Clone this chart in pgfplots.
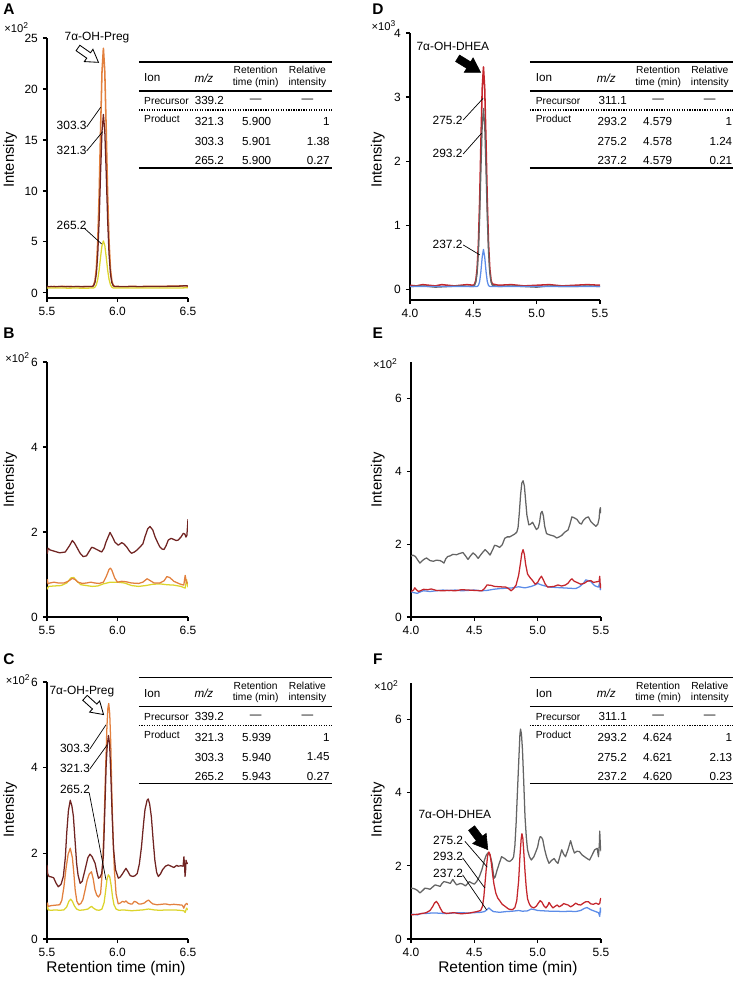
\documentclass[border=0pt]{standalone}
\usepackage{fontspec}
\setmainfont{Liberation Sans}
\usepackage{pgfplots}
\pgfplotsset{compat=1.18}

\definecolor{cBrown}{RGB}{112,36,34}
\definecolor{cOrange}{RGB}{226,128,62}
\definecolor{cYellow}{RGB}{220,212,45}
\definecolor{cGrey}{RGB}{100,100,100}
\definecolor{cRed}{RGB}{196,38,44}
\definecolor{cBlue}{RGB}{92,140,232}

\newcommand\fTick{\fontsize{8.5}{10}\selectfont}
\newcommand\fLab{\fontsize{10.5}{12}\selectfont}
\newcommand\fXLab{\fontsize{11}{13}\selectfont}
\newcommand\fTab{\fontsize{8.3}{10}\selectfont}
\newcommand\fTabS{\fontsize{7.3}{8.2}\selectfont}
\newcommand\fAnn{\fontsize{8.5}{10}\selectfont}

\pgfplotsset{chrom/.style={scale only axis, anchor=south west,
  axis lines=left, axis line style={-,line width=0.8pt},
  tick align=outside, major tick length=3pt, tick style={black,line width=0.8pt},
  ticklabel style={font=\fTick}, enlargelimits=false,
  every axis plot/.append style={line width=0.9pt, line join=round, mark=none}}}

% ion table, drawn in px units from its top left corner
\newcommand\iontable[3]{%
  \draw[line width=1.1pt] (0,0) -- (#1,0);
  \node[anchor=west,inner sep=0,font=\fTab] at (\cIon,16) {Ion};
  \node[anchor=west,inner sep=0,font=\fTab\itshape] at (\cMz,16) {m/z};
  \node[align=center,inner sep=0,font=\fTabS] at (\cRt,15) {Retention\\time (min)};
  \node[align=center,inner sep=0,font=\fTabS] at (\cRi,15) {Relative\\intensity};
  \draw[line width=0.9pt] (0,29) -- (#1,29);
  \node[anchor=west,inner sep=0,font=\fTabS] at (\cIon,39) {Precursor};
  \node[anchor=east,inner sep=0,font=\fTab] at (\cMzR,39) {#2};
  \node[inner sep=0,font=\fTab] at (\cRt,39) {—};
  \node[inner sep=0,font=\fTab] at (\cRi,39) {—};
  \draw[line width=0.9pt, dash pattern=on 0.9pt off 0.9pt] (0,48) -- (#1,48);
  \node[anchor=west,inner sep=0,font=\fTabS] at (\cIon,57) {Product};
  \foreach \va/\vb/\vc [count=\k from 0] in {#3} {
    \node[anchor=east,inner sep=0,font=\fTab] at (\cMzR,60+19.5*\k) {\va};
    \node[inner sep=0,font=\fTab] at (\cRtV,60+19.5*\k) {\vb};
    \node[anchor=east,inner sep=0,font=\fTab] at (\cRiR,60+19.5*\k) {\vc};
  }
  \draw[line width=1.1pt] (0,106) -- (#1,106);
}
\newcommand\pregcols{\def\cIon{5}\def\cMz{55.3}\def\cMzR{85.3}\def\cRt{116.7}\def\cRtV{117.7}\def\cRi{168.5}\def\cRiR{191}}
\newcommand\dheacols{\def\cIon{5.7}\def\cMz{66.7}\def\cMzR{97.3}\def\cRt{128.3}\def\cRtV{127.8}\def\cRi{180}\def\cRiR{202.7}}

% block arrow: tail x, tail y, angle, style, shaft half width, head half width, head start, length
\newcommand\blockarrow[8]{%
  \begin{scope}[shift={(#1,#2)}, rotate=#3]
    \draw[#4] (0,-#5) -- (#7,-#5) -- (#7,-#6) -- (#8,0) -- (#7,#6) -- (#7,#5) -- (0,#5) -- cycle;
  \end{scope}}

\begin{document}
\begin{tikzpicture}
\path[use as bounding box] (0,0) rectangle (18.4cm,-24.55cm);

% ---------- A ----------
\begin{axis}[chrom, at={(1.175cm,-7.45cm)}, width=3.525cm, height=6.5cm,
  xmin=5.5, xmax=6.5, ymin=-0.5, ymax=25,
  xtick={5.5,6,6.5}, xticklabels={5.5,6.0,6.5},
  ytick={0,5,10,15,20,25}, yticklabels={0,5,10,15,20,25}]
\addplot[cOrange, line width=1.1pt] coordinates {(5.50,0.62) (5.52,0.60) (5.55,0.63) (5.58,0.61) (5.61,0.64) (5.64,0.62) (5.67,0.63) (5.70,0.61) (5.73,0.62) (5.76,0.60) (5.79,0.62) (5.82,0.60) (5.83,0.74) (5.84,1.16) (5.85,2.38) (5.86,5.05) (5.87,9.73) (5.88,16.04) (5.89,21.66) (5.90,24.0) (5.91,21.66) (5.92,16.04) (5.93,9.73) (5.94,5.05) (5.95,2.38) (5.96,1.16) (5.97,0.74) (5.98,0.62) (6.00,0.63) (6.05,0.61) (6.10,0.64) (6.15,0.62) (6.20,0.63) (6.25,0.64) (6.30,0.63) (6.35,0.65) (6.40,0.66) (6.45,0.68) (6.48,0.70) (6.50,0.66)};
\addplot[cBrown] coordinates {(5.50,0.60) (5.53,0.62) (5.56,0.59) (5.59,0.63) (5.62,0.61) (5.65,0.62) (5.68,0.60) (5.71,0.63) (5.74,0.61) (5.77,0.62) (5.80,0.62) (5.82,0.62) (5.83,0.70) (5.84,1.01) (5.85,1.88) (5.86,3.81) (5.87,7.19) (5.88,11.75) (5.89,15.81) (5.90,17.5) (5.91,15.81) (5.92,11.75) (5.93,7.19) (5.94,3.81) (5.95,1.88) (5.96,1.01) (5.97,0.70) (5.98,0.63) (6.00,0.62) (6.05,0.60) (6.10,0.63) (6.15,0.61) (6.20,0.62) (6.25,0.64) (6.30,0.62) (6.35,0.64) (6.40,0.65) (6.45,0.67) (6.48,0.71) (6.50,0.68)};
\addplot[cYellow] coordinates {(5.50,0.48) (5.55,0.47) (5.60,0.49) (5.65,0.46) (5.70,0.48) (5.75,0.46) (5.80,0.47) (5.83,0.48) (5.84,0.56) (5.85,0.80) (5.86,1.33) (5.87,2.26) (5.88,3.52) (5.89,4.64) (5.90,5.10) (5.91,4.64) (5.92,3.52) (5.93,2.26) (5.94,1.33) (5.95,0.80) (5.96,0.56) (5.97,0.48) (6.00,0.47) (6.10,0.48) (6.20,0.47) (6.30,0.49) (6.40,0.48) (6.50,0.50)};
\end{axis}

% ---------- D ----------
\begin{axis}[chrom, at={(10.25cm,-7.5cm)}, width=4.75cm, height=6.675cm,
  xmin=4, xmax=5.5, ymin=-0.17, ymax=4,
  xtick={4,4.5,5,5.5}, xticklabels={4.0,4.5,5.0,5.5},
  ytick={0,1,2,3,4}, yticklabels={0,1,2,3,4}]
\addplot[cRed, line width=1.1pt] coordinates {(4.00,0.06) (4.05,0.05) (4.10,0.07) (4.15,0.06) (4.20,0.05) (4.25,0.07) (4.30,0.06) (4.35,0.05) (4.40,0.06) (4.45,0.07) (4.50,0.06) (4.51,0.08) (4.52,0.14) (4.53,0.32) (4.54,0.71) (4.55,1.39) (4.56,2.31) (4.57,3.13) (4.58,3.47) (4.59,3.13) (4.60,2.31) (4.61,1.39) (4.62,0.71) (4.63,0.32) (4.64,0.14) (4.65,0.08) (4.70,0.06) (4.80,0.07) (4.90,0.05) (5.00,0.06) (5.10,0.07) (5.20,0.05) (5.30,0.06) (5.40,0.07) (5.50,0.06)};
\addplot[cGrey] coordinates {(4.00,0.04) (4.10,0.05) (4.20,0.03) (4.30,0.04) (4.40,0.05) (4.50,0.04) (4.51,0.06) (4.52,0.11) (4.53,0.25) (4.54,0.57) (4.55,1.12) (4.56,1.87) (4.57,2.54) (4.58,2.82) (4.59,2.54) (4.60,1.87) (4.61,1.12) (4.62,0.57) (4.63,0.25) (4.64,0.11) (4.65,0.06) (4.70,0.04) (4.80,0.05) (4.90,0.04) (5.00,0.03) (5.10,0.05) (5.20,0.04) (5.30,0.04) (5.40,0.05) (5.50,0.04)};
\addplot[cBlue] coordinates {(4.00,0.04) (4.20,0.04) (4.40,0.04) (4.52,0.04) (4.53,0.042) (4.54,0.056) (4.55,0.12) (4.56,0.28) (4.57,0.50) (4.58,0.62) (4.59,0.50) (4.60,0.28) (4.61,0.12) (4.62,0.056) (4.63,0.042) (4.70,0.04) (5.00,0.04) (5.50,0.04)};
\end{axis}

% ---------- B ----------
\begin{axis}[chrom, at={(1.175cm,-15.425cm)}, width=3.525cm, height=6.375cm,
  xmin=5.5, xmax=6.5, ymin=0, ymax=6,
  xtick={5.5,6,6.5}, xticklabels={5.5,6.0,6.5},
  ytick={0,2,4,6}, yticklabels={0,2,4,6}]
\addplot[cYellow] coordinates {(5.50,0.70) (5.503,0.66) (5.51,0.72) (5.55,0.73) (5.60,0.74) (5.64,0.80) (5.67,0.92) (5.69,0.93) (5.71,0.85) (5.74,0.76) (5.78,0.74) (5.82,0.72) (5.86,0.73) (5.90,0.78) (5.95,0.82) (6.00,0.82) (6.05,0.80) (6.10,0.74) (6.15,0.72) (6.20,0.74) (6.25,0.77) (6.30,0.78) (6.35,0.76) (6.40,0.75) (6.45,0.72) (6.48,0.68) (6.49,0.88) (6.50,0.70)};
\addplot[cOrange] coordinates {(5.50,0.80) (5.503,0.88) (5.507,0.78) (5.52,0.80) (5.55,0.82) (5.58,0.80) (5.62,0.80) (5.65,0.84) (5.68,0.91) (5.70,0.88) (5.72,0.82) (5.75,0.79) (5.78,0.80) (5.81,0.82) (5.84,0.80) (5.87,0.79) (5.90,0.82) (5.92,0.95) (5.94,1.12) (5.95,1.15) (5.96,1.10) (5.98,0.92) (6.00,0.82) (6.03,0.84) (6.06,0.83) (6.10,0.80) (6.15,0.79) (6.18,0.82) (6.21,0.90) (6.23,0.86) (6.26,0.80) (6.30,0.80) (6.33,0.85) (6.35,0.95) (6.37,0.93) (6.40,0.84) (6.44,0.78) (6.47,0.75) (6.48,0.98) (6.49,0.80) (6.50,0.80)};
\addplot[cBrown] coordinates {(5.500,1.59) (5.503,1.50) (5.507,1.62) (5.52,1.58) (5.55,1.55) (5.59,1.51) (5.63,1.53) (5.66,1.68) (5.68,1.80) (5.695,1.74) (5.71,1.65) (5.735,1.50) (5.757,1.42) (5.78,1.44) (5.80,1.55) (5.817,1.64) (5.835,1.62) (5.852,1.59) (5.875,1.55) (5.888,1.53) (5.905,1.62) (5.918,1.76) (5.947,1.99) (5.965,1.88) (5.982,1.76) (6.006,1.69) (6.03,1.75) (6.045,1.72) (6.065,1.65) (6.085,1.55) (6.10,1.50) (6.12,1.53) (6.136,1.57) (6.16,1.65) (6.18,1.72) (6.195,1.89) (6.215,2.08) (6.23,2.13) (6.25,2.05) (6.266,1.89) (6.285,1.75) (6.30,1.65) (6.315,1.60) (6.33,1.59) (6.345,1.68) (6.36,1.81) (6.38,1.85) (6.396,1.83) (6.415,1.80) (6.43,1.81) (6.45,1.88) (6.467,1.97) (6.478,1.95) (6.485,1.88) (6.492,1.92) (6.497,2.15) (6.50,2.30)};
\end{axis}

% ---------- E ----------
\begin{axis}[chrom, at={(10.275cm,-15.425cm)}, width=4.75cm, height=6.375cm,
  xmin=4, xmax=5.5, ymin=0, ymax=7,
  xtick={4,4.5,5,5.5}, xticklabels={4.0,4.5,5.0,5.5},
  ytick={0,2,4,6}, yticklabels={0,2,4,6}]
\addplot[cGrey] coordinates {(4.000,1.67) (4.015,1.70) (4.035,1.66) (4.05,1.58) (4.07,1.48) (4.09,1.55) (4.11,1.60) (4.123,1.62) (4.15,1.55) (4.176,1.53) (4.20,1.56) (4.229,1.55) (4.245,1.52) (4.26,1.48) (4.275,1.60) (4.29,1.66) (4.31,1.68) (4.33,1.72) (4.36,1.71) (4.38,1.74) (4.41,1.77) (4.43,1.68) (4.45,1.58) (4.47,1.68) (4.49,1.76) (4.51,1.70) (4.53,1.61) (4.56,1.75) (4.585,1.85) (4.605,1.78) (4.624,1.70) (4.645,1.85) (4.66,1.97) (4.68,1.95) (4.70,1.91) (4.72,1.98) (4.74,2.16) (4.76,2.20) (4.78,2.20) (4.80,2.24) (4.82,2.28) (4.835,2.33) (4.845,2.45) (4.855,2.85) (4.865,3.35) (4.875,3.68) (4.885,3.74) (4.895,3.60) (4.905,3.20) (4.915,2.80) (4.93,2.53) (4.945,2.55) (4.96,2.60) (4.975,2.50) (4.99,2.40) (5.005,2.45) (5.015,2.60) (5.025,2.85) (5.035,2.90) (5.045,2.78) (5.055,2.50) (5.07,2.29) (5.09,2.26) (5.11,2.24) (5.13,2.22) (5.15,2.17) (5.17,2.20) (5.19,2.24) (5.215,2.33) (5.24,2.39) (5.255,2.55) (5.27,2.75) (5.29,2.72) (5.31,2.68) (5.33,2.58) (5.345,2.55) (5.36,2.65) (5.38,2.72) (5.40,2.75) (5.42,2.62) (5.44,2.55) (5.46,2.49) (5.475,2.55) (5.485,2.70) (5.49,2.93) (5.495,3.00) (5.50,2.85)};
\addplot[cBlue] coordinates {(4.00,0.70) (4.02,0.67) (4.05,0.65) (4.08,0.70) (4.10,0.72) (4.15,0.70) (4.20,0.72) (4.25,0.74) (4.30,0.73) (4.35,0.74) (4.40,0.72) (4.45,0.73) (4.50,0.74) (4.55,0.72) (4.60,0.73) (4.65,0.76) (4.70,0.78) (4.75,0.79) (4.80,0.80) (4.85,0.83) (4.90,0.80) (4.95,0.84) (4.98,0.88) (5.00,0.92) (5.03,0.88) (5.06,0.85) (5.10,0.82) (5.15,0.81) (5.20,0.80) (5.25,0.79) (5.30,0.78) (5.33,0.83) (5.36,0.92) (5.38,1.02) (5.40,1.00) (5.42,0.97) (5.45,0.86) (5.48,0.82) (5.49,0.95) (5.495,0.75) (5.50,0.80)};
\addplot[cRed] coordinates {(4.00,0.70) (4.02,0.74) (4.03,0.80) (4.045,0.74) (4.06,0.70) (4.08,0.73) (4.10,0.76) (4.13,0.75) (4.16,0.77) (4.20,0.73) (4.25,0.72) (4.30,0.73) (4.35,0.72) (4.40,0.75) (4.45,0.74) (4.50,0.73) (4.56,0.72) (4.58,0.78) (4.60,0.88) (4.63,0.87) (4.66,0.84) (4.70,0.83) (4.75,0.82) (4.77,0.78) (4.79,0.72) (4.81,0.78) (4.83,0.88) (4.85,1.15) (4.865,1.50) (4.875,1.75) (4.885,1.85) (4.895,1.72) (4.905,1.45) (4.92,1.18) (4.94,1.08) (4.96,1.00) (4.98,0.90) (5.00,0.95) (5.015,1.05) (5.03,1.12) (5.045,1.02) (5.06,0.90) (5.08,0.82) (5.10,0.83) (5.13,0.84) (5.16,0.88) (5.19,0.85) (5.22,0.88) (5.24,0.93) (5.26,1.02) (5.27,1.05) (5.29,0.98) (5.31,0.95) (5.34,0.90) (5.37,0.93) (5.39,0.98) (5.42,1.00) (5.44,0.95) (5.47,0.97) (5.485,0.98) (5.49,1.12) (5.495,0.80) (5.50,0.90)};
\end{axis}

% ---------- C ----------
\begin{axis}[chrom, at={(1.175cm,-23.475cm)}, width=3.525cm, height=6.425cm,
  xmin=5.5, xmax=6.5, ymin=0, ymax=6,
  xtick={5.5,6,6.5}, xticklabels={5.5,6.0,6.5},
  ytick={0,2,4,6}, yticklabels={0,2,4,6}]
\addplot[cYellow] coordinates {(5.500,0.70) (5.504,0.77) (5.508,0.68) (5.53,0.67) (5.56,0.68) (5.59,0.67) (5.62,0.68) (5.64,0.75) (5.655,0.88) (5.668,0.93) (5.68,0.88) (5.695,0.77) (5.71,0.70) (5.73,0.67) (5.76,0.68) (5.79,0.70) (5.805,0.74) (5.817,0.76) (5.83,0.72) (5.85,0.68) (5.87,0.67) (5.89,0.70) (5.905,0.85) (5.915,1.10) (5.925,1.38) (5.935,1.50) (5.945,1.45) (5.955,1.25) (5.965,0.98) (5.975,0.80) (5.99,0.70) (6.01,0.67) (6.04,0.68) (6.07,0.67) (6.10,0.66) (6.14,0.67) (6.18,0.68) (6.22,0.70) (6.26,0.68) (6.30,0.67) (6.35,0.68) (6.40,0.68) (6.44,0.67) (6.47,0.66) (6.48,0.62) (6.49,0.72) (6.50,0.68)};
\addplot[cOrange] coordinates {(5.500,0.77) (5.504,0.84) (5.508,0.76) (5.53,0.78) (5.56,0.79) (5.59,0.80) (5.605,0.90) (5.62,1.22) (5.635,1.65) (5.65,1.98) (5.665,2.12) (5.68,1.90) (5.69,1.55) (5.70,1.14) (5.712,0.88) (5.725,0.80) (5.74,0.83) (5.755,0.92) (5.77,1.14) (5.785,1.38) (5.80,1.52) (5.815,1.57) (5.828,1.40) (5.84,1.15) (5.852,1.03) (5.865,0.98) (5.88,1.06) (5.893,1.60) (5.905,2.70) (5.915,3.90) (5.925,4.95) (5.932,5.40) (5.938,5.50) (5.945,5.25) (5.952,4.60) (5.96,3.40) (5.968,2.40) (5.978,1.60) (5.99,1.05) (6.005,0.82) (6.02,0.84) (6.035,0.88) (6.05,0.86) (6.06,0.89) (6.075,0.84) (6.09,0.82) (6.105,0.82) (6.12,0.88) (6.135,0.86) (6.15,0.82) (6.17,0.82) (6.19,0.84) (6.205,0.88) (6.22,0.91) (6.235,0.86) (6.25,0.82) (6.28,0.80) (6.31,0.81) (6.34,0.82) (6.37,0.80) (6.40,0.81) (6.43,0.80) (6.46,0.79) (6.47,0.72) (6.48,0.80) (6.49,0.83) (6.50,0.80)};
\addplot[cBrown] coordinates {(5.500,1.73) (5.505,1.52) (5.514,1.46) (5.53,1.45) (5.547,1.43) (5.565,1.30) (5.58,1.22) (5.60,1.28) (5.616,1.46) (5.63,1.90) (5.64,2.48) (5.652,3.00) (5.665,3.24) (5.677,3.10) (5.687,2.87) (5.70,2.25) (5.71,1.77) (5.72,1.50) (5.735,1.30) (5.75,1.35) (5.77,1.62) (5.79,1.90) (5.805,1.98) (5.82,1.92) (5.841,1.77) (5.855,1.55) (5.865,1.42) (5.878,1.45) (5.888,1.53) (5.90,1.95) (5.91,3.00) (5.92,4.10) (5.928,4.55) (5.936,4.75) (5.944,4.55) (5.952,3.90) (5.962,2.90) (5.972,2.10) (5.986,1.62) (6.006,1.42) (6.02,1.45) (6.035,1.52) (6.05,1.60) (6.06,1.65) (6.075,1.57) (6.09,1.48) (6.11,1.46) (6.125,1.48) (6.14,1.53) (6.155,1.75) (6.17,2.15) (6.185,2.70) (6.195,3.02) (6.21,3.24) (6.218,3.27) (6.228,3.15) (6.24,2.86) (6.253,2.30) (6.265,1.84) (6.278,1.55) (6.29,1.46) (6.305,1.52) (6.32,1.62) (6.34,1.70) (6.36,1.73) (6.38,1.70) (6.40,1.67) (6.42,1.72) (6.43,1.70) (6.45,1.71) (6.465,1.70) (6.471,1.92) (6.476,1.70) (6.479,1.46) (6.483,1.60) (6.486,1.84) (6.493,1.76) (6.50,1.77)};
\end{axis}

% ---------- F ----------
\begin{axis}[chrom, at={(10.275cm,-23.475cm)}, width=4.75cm, height=6.4cm,
  xmin=4, xmax=5.5, ymin=0, ymax=7,
  xtick={4,4.5,5,5.5}, xticklabels={4.0,4.5,5.0,5.5},
  ytick={0,2,4,6}, yticklabels={0,2,4,6}]
\addplot[cGrey] coordinates {(4.000,1.39) (4.02,1.38) (4.035,1.36) (4.05,1.33) (4.07,1.26) (4.09,1.32) (4.11,1.39) (4.13,1.38) (4.15,1.36) (4.17,1.42) (4.19,1.48) (4.21,1.46) (4.23,1.44) (4.245,1.52) (4.26,1.57) (4.285,1.55) (4.31,1.52) (4.33,1.63) (4.345,1.55) (4.36,1.48) (4.39,1.52) (4.41,1.50) (4.43,1.45) (4.46,1.57) (4.48,1.53) (4.50,1.50) (4.52,1.58) (4.54,1.71) (4.56,1.90) (4.58,2.16) (4.595,2.30) (4.61,2.36) (4.625,2.28) (4.64,2.07) (4.655,1.66) (4.665,1.70) (4.68,1.89) (4.70,2.10) (4.715,2.25) (4.73,2.22) (4.74,2.20) (4.76,2.14) (4.78,2.12) (4.80,2.18) (4.81,2.25) (4.82,2.55) (4.83,3.17) (4.84,4.00) (4.85,4.81) (4.86,5.60) (4.865,5.74) (4.872,5.60) (4.88,5.18) (4.89,4.30) (4.90,3.35) (4.91,2.80) (4.92,2.44) (4.935,2.25) (4.95,2.16) (4.97,2.25) (4.985,2.38) (5.00,2.52) (5.01,2.70) (5.02,2.80) (5.03,2.78) (5.04,2.72) (5.055,2.45) (5.07,2.25) (5.08,2.15) (5.09,2.07) (5.11,2.15) (5.13,2.20) (5.145,2.12) (5.16,2.07) (5.175,2.25) (5.19,2.44) (5.205,2.32) (5.22,2.25) (5.24,2.45) (5.26,2.69) (5.275,2.50) (5.29,2.35) (5.31,2.40) (5.33,2.39) (5.35,2.30) (5.37,2.25) (5.39,2.20) (5.41,2.16) (5.43,2.30) (5.45,2.44) (5.47,2.48) (5.48,2.25) (5.487,2.60) (5.49,2.95) (5.495,2.55) (5.50,2.40)};
\addplot[cBlue] coordinates {(4.00,0.68) (4.03,0.67) (4.05,0.66) (4.08,0.70) (4.12,0.70) (4.16,0.71) (4.20,0.71) (4.25,0.70) (4.30,0.70) (4.35,0.72) (4.40,0.72) (4.45,0.71) (4.50,0.72) (4.55,0.73) (4.58,0.75) (4.60,0.80) (4.615,0.85) (4.63,0.80) (4.65,0.75) (4.70,0.73) (4.75,0.75) (4.80,0.76) (4.85,0.78) (4.88,0.76) (4.92,0.77) (4.95,0.82) (4.98,0.80) (5.00,0.78) (5.05,0.77) (5.10,0.76) (5.15,0.76) (5.20,0.75) (5.25,0.76) (5.30,0.75) (5.34,0.78) (5.37,0.84) (5.39,0.86) (5.42,0.80) (5.45,0.76) (5.48,0.72) (5.49,0.62) (5.495,0.85) (5.50,0.72)};
\addplot[cRed] coordinates {(4.00,0.66) (4.03,0.67) (4.06,0.68) (4.09,0.70) (4.12,0.72) (4.15,0.78) (4.17,0.88) (4.185,0.98) (4.20,1.03) (4.215,0.96) (4.23,0.85) (4.25,0.73) (4.28,0.70) (4.31,0.71) (4.34,0.72) (4.37,0.70) (4.40,0.69) (4.43,0.70) (4.46,0.71) (4.49,0.73) (4.52,0.75) (4.55,0.78) (4.565,0.90) (4.575,1.15) (4.585,1.55) (4.595,1.95) (4.605,2.28) (4.615,2.38) (4.625,2.30) (4.635,2.05) (4.645,1.75) (4.655,1.50) (4.67,1.25) (4.685,1.12) (4.70,1.05) (4.72,0.95) (4.74,0.90) (4.77,0.82) (4.80,0.80) (4.82,0.86) (4.835,1.05) (4.85,1.60) (4.86,2.25) (4.87,2.75) (4.876,2.88) (4.883,2.75) (4.89,2.40) (4.90,1.85) (4.91,1.40) (4.92,1.10) (4.935,0.95) (4.95,0.88) (4.97,0.85) (4.99,0.90) (5.005,0.98) (5.02,1.05) (5.035,1.00) (5.05,0.90) (5.065,0.85) (5.08,0.92) (5.09,1.00) (5.105,0.92) (5.12,0.85) (5.14,0.90) (5.155,0.93) (5.17,0.88) (5.19,0.92) (5.205,0.97) (5.22,0.95) (5.24,0.93) (5.26,0.88) (5.28,0.92) (5.30,0.98) (5.32,0.94) (5.34,0.93) (5.36,0.98) (5.38,1.02) (5.40,1.02) (5.42,0.96) (5.44,0.95) (5.46,0.98) (5.48,0.95) (5.49,0.97) (5.495,1.08) (5.50,1.12)};
\end{axis}

% ---------- text, tables and annotations (px units) ----------
\begin{scope}[x=0.025cm, y=-0.025cm]
  % panel letters
  \foreach \lx/\ly/\lt in {9/9/A, 378/9/D, 9/333/B, 378/333/E, 9/659/C, 378/659/F}
    \node[font=\fontsize{11}{13}\selectfont\bfseries] at (\lx,\ly) {\lt};
  % scale factors
  \foreach \lx/\ly/\le in {16.5/28/2, 384/25.5/3, 17.5/358/2, 385.5/364/2, 18/680/2, 386.5/686/2}
    \node[font=\fontsize{8}{9}\selectfont, inner sep=0] at (\lx,\ly) {×10\textsuperscript{\le}};
  % y labels
  \foreach \lx/\ly in {10/160, 378/160, 10/480, 378/480, 10/810, 378/810}
    \node[rotate=90, font=\fLab] at (\lx,\ly) {Intensity};
  % x labels
  \node[font=\fXLab] at (116,969) {Retention time (min)};
  \node[font=\fXLab] at (508,969) {Retention time (min)};

  % tables
  \begin{scope}[shift={(139,62)}]\pregcols\iontable{193}{339.2}{321.3/5.900/1, 303.3/5.901/1.38, 265.2/5.900/0.27}\end{scope}
  \begin{scope}[shift={(530,62)}]\dheacols\iontable{203}{311.1}{293.2/4.579/1, 275.2/4.578/1.24, 237.2/4.579/0.21}\end{scope}
  \begin{scope}[shift={(139,677.7)}]\pregcols\iontable{193}{339.2}{321.3/5.939/1, 303.3/5.940/1.45, 265.2/5.943/0.27}\end{scope}
  \begin{scope}[shift={(530,677.7)}]\dheacols\iontable{203}{311.1}{293.2/4.624/1, 275.2/4.621/2.13, 237.2/4.620/0.23}\end{scope}

  % A annotations
  \node[font=\fAnn] at (97,38) {7α-OH-Preg};
  \blockarrow{78}{48}{-35}{fill=white, line width=0.6pt}{3.3}{7.5}{13}{25}
  \node[font=\fAnn] at (71.7,125) {303.3};
  \node[font=\fAnn] at (71.7,150) {321.3};
  \node[font=\fAnn] at (71.7,225) {265.2};
  \draw[line width=0.5pt] (86.7,127) -- (100.7,107.3);
  \draw[line width=0.5pt] (86.7,151) -- (102.7,131.7);
  \draw[line width=0.5pt] (84,228) -- (101.7,244);

  % D annotations
  \node[font=\fAnn] at (453,46) {7α-OH-DHEA};
  \blockarrow{457.7}{58.3}{-31.5}{fill=black}{3.8}{8.5}{13}{27}
  \node[font=\fAnn] at (447.7,120) {275.2};
  \node[font=\fAnn] at (447.7,153) {293.2};
  \node[font=\fAnn] at (447.7,244) {237.2};
  \draw[line width=0.5pt] (463.3,120) -- (483.3,98.3);
  \draw[line width=0.5pt] (463.3,154) -- (481.7,133.3);
  \draw[line width=0.5pt] (463.3,245) -- (480,255);

  % C annotations
  \node[font=\fAnn, anchor=west, inner sep=0] at (49.3,691.7) {7α-OH-Preg};
  \blockarrow{85}{698}{-42}{fill=white, line width=0.6pt}{3.3}{7.5}{13}{25}
  \node[font=\fAnn] at (75,748.3) {303.3};
  \node[font=\fAnn] at (75,768.3) {321.3};
  \node[font=\fAnn] at (75,790) {265.2};
  \draw[line width=0.5pt] (90,749) -- (106,725);
  \draw[line width=0.5pt] (90,769) -- (107.3,745);
  \draw[line width=0.5pt] (89.3,793.3) -- (106,880);

  % F annotations
  \node[font=\fAnn] at (455,814.3) {7α-OH-DHEA};
  \blockarrow{471.7}{828.3}{-53}{fill=black}{3.8}{8.5}{13}{27}
  \node[font=\fAnn] at (448.3,840.7) {275.2};
  \node[font=\fAnn] at (448.3,856.7) {293.2};
  \node[font=\fAnn] at (448.3,873.3) {237.2};
  \draw[line width=0.5pt] (465,841.5) -- (487.3,867.3);
  \draw[line width=0.5pt] (462.7,858) -- (485,888.3);
  \draw[line width=0.5pt] (462.7,875) -- (486.7,910);
\end{scope}
\end{tikzpicture}
\end{document}
